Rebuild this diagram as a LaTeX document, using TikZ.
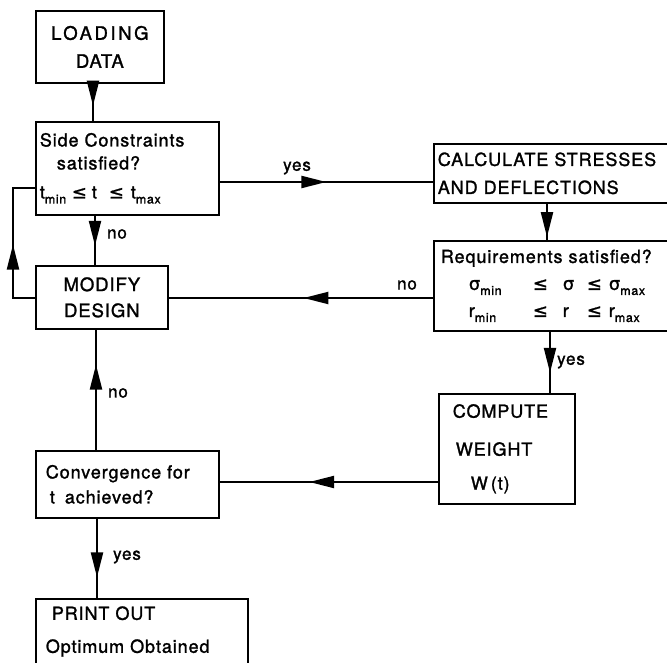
\documentclass[tikz,border=0pt]{standalone}
\usepackage{fontspec}
\setmainfont{TeX Gyre Heros}[LetterSpace=5,FakeBold=1.4]
\newfontfamily\symf{DejaVu Sans}[FakeBold=1.2]
\usetikzlibrary{arrows.meta,decorations.markings}
\newcommand\sbs[1]{\raisebox{-5pt}{\fontsize{12.5}{12}\selectfont #1}}
\newcommand\leqq{{\symf ≤}}
\newcommand\sig{{\symf σ}}
\begin{document}
\begin{tikzpicture}[x=1pt,y=-1pt,
  box/.style={draw, line width=1.7pt, inner sep=0pt, anchor=north west},
  conn/.style={line width=2.2pt},
  amark/.style={postaction={decorate}, decoration={markings,
     mark=at position #1 with {\arrow{Triangle[length=25pt,width=12pt]}}}},
  lbl/.style={font=\fontsize{17}{20}\selectfont, inner sep=0pt}]
\useasboundingbox (0,0) rectangle (667,663);
\fill[white] (0,0) rectangle (667,663);
\clip (0,0) rectangle (667,663);

% boxes
\node[box, minimum width=128pt, minimum height=72pt, align=center,
      font=\fontsize{18.5}{28}\selectfont] (load) at (35,10)
  {{\addfontfeature{LetterSpace=14}LOADING}\\DATA};
\node[box, minimum height=93pt, text width=175pt, inner xsep=4pt, align=left,
      font=\fontsize{18}{23}\selectfont] (side) at (35,121)
  {Side Constraints\\\hspace*{17pt}satisfied?\\[6pt]\makebox[32pt][l]{t\sbs{min}}\makebox[20pt][l]{\leqq}\makebox[17pt][l]{t}\makebox[22pt][l]{\leqq}t\sbs{max}};
\node[box, minimum height=59pt, text width=290pt, inner xsep=4pt, align=left,
      font=\fontsize{18}{28}\selectfont] (calc) at (433,143)
  {CALCULATE STRESSES\\AND DEFLECTIONS};
\node[box, minimum height=90pt, text width=290pt, inner xsep=7pt, align=left,
      font=\fontsize{18}{27}\selectfont] (req) at (433,240)
  {Requirements satisfied?\\
   \hspace*{28pt}\makebox[64pt][l]{\sig\sbs{min}}\makebox[30pt][l]{\leqq}\makebox[24pt][l]{\sig}\makebox[22pt][l]{\leqq}\sig\sbs{max}\\
   \hspace*{28pt}\makebox[64pt][l]{r\sbs{min}}\makebox[30pt][l]{\leqq}\makebox[24pt][l]{r}\makebox[22pt][l]{\leqq}r\sbs{max}};
\node[box, minimum width=132pt, minimum height=63pt, align=center,
      font=\fontsize{18.5}{26}\selectfont] (mod) at (35,265) {MODIFY\\DESIGN};
\node[box, minimum height=67pt, text width=163pt, inner xsep=10pt, align=left,
      font=\fontsize{18}{25}\selectfont] (conv) at (35,450)
  {Convergence for\\\hspace*{4pt}t\hspace{10pt}achieved?};
\node[box, minimum height=110pt, text width=108pt, inner xsep=14pt, align=left,
      font=\fontsize{18}{26}\selectfont] (comp) at (438,393)
  {COMPUTE\\[12pt]\hspace*{3pt}WEIGHT\\[8pt]\hspace*{18pt}W\,(t)};
\node[box, text width=192pt, inner xsep=10pt, inner ysep=7.5pt, align=left,
      font=\fontsize{18}{33}\selectfont] (print) at (35,598)
  {\hspace*{6pt}PRINT OUT\\Optimum Obtained\\\mbox{}};

% helper coordinates for connector levels
\coordinate (yesy) at (0,182);
\coordinate (noy) at (0,298);
\coordinate (fby) at (0,188);
\coordinate (wy) at (0,482);
\coordinate (fbx) at (13,0);

% connectors
\draw[conn, amark=0.59] (load.south -| 93,0) -- (side.north -| 93,0);
\draw[conn, amark=0.61] (side.south -| 95,0) -- (mod.north -| 95,0);
\draw[conn, amark=0.50] (yesy -| side.east) -- (yesy -| calc.west);
\draw[conn, amark=0.92] (calc.south -| 547,0) -- (req.north -| 547,0);
\draw[conn, amark=0.49] (noy -| req.west) -- (noy -| mod.east);
\draw[conn, amark=0.49] (noy -| mod.west) -- (noy -| fbx) -- (fby -| fbx) -- (fby -| side.west);
\draw[conn, amark=0.71] (conv.north -| 96,0) -- (mod.south -| 96,0);
\draw[conn, amark=0.67] (req.south -| 550,0) -- (comp.north -| 550,0);
\draw[conn, amark=0.59] (wy -| comp.west) -- (wy -| conv.east);
\draw[conn, amark=0.74] (conv.south -| 97,0) -- (print.north -| 97,0);

% labels
\node[lbl] (l1) at (297,168) {yes};
\node[lbl] (l2) at (117,234) {no};
\node[lbl] (l3) at (407,285) {no};
\node[lbl] (l4) at (118,393) {no};
\node[lbl] (l5) at (571,362) {yes};
\node[lbl] (l6) at (127,557) {yes};
\end{tikzpicture}
\end{document}
